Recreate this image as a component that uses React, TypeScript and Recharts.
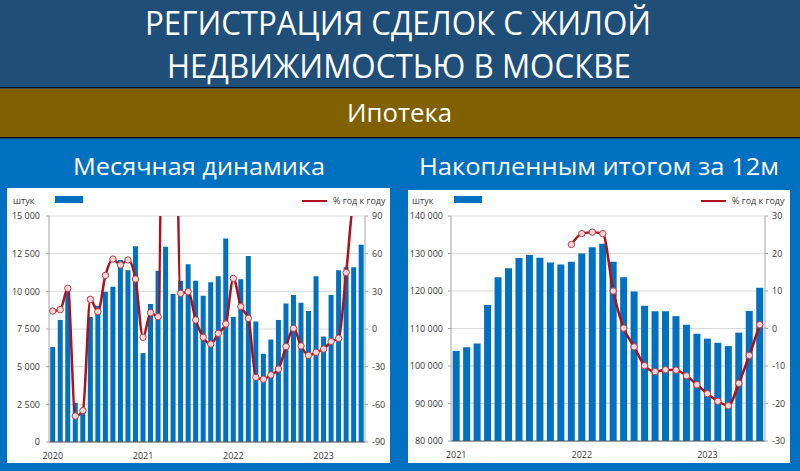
import React from 'react';
import { ComposedChart, Bar, Line, XAxis, YAxis, CartesianGrid } from 'recharts';

// ---- Monthly dynamics (left panel) ----
const monthsL = [
  '2020-01','2020-02','2020-03','2020-04','2020-05','2020-06','2020-07','2020-08','2020-09','2020-10','2020-11','2020-12',
  '2021-01','2021-02','2021-03','2021-04','2021-05','2021-06','2021-07','2021-08','2021-09','2021-10','2021-11','2021-12',
  '2022-01','2022-02','2022-03','2022-04','2022-05','2022-06','2022-07','2022-08','2022-09','2022-10','2022-11','2022-12',
  '2023-01','2023-02','2023-03','2023-04','2023-05','2023-06',
];
const dealsL = [
  6300, 8100, 10300, 2600, 2250, 8300, 9050, 9970, 10300, 12080, 11400, 13000,
  5900, 9160, 11370, 12960, 9820, 10700, 11800, 10700, 9700, 10600, 11000, 13500,
  8300, 10800, 12350, 8000, 5850, 6800, 8100, 9200, 9750, 9250, 8700, 11000,
  7000, 9750, 11400, 11600, 11600, 13100,
];
const yoyL = [
  14.3, 15.4, 32.4, -69.3, -65, 23.6, 13.8, 42.7, 55.7, 51, 55, 39.8,
  -6.6, 13, 9.8, 400, 336, 28.4, 29.7, 7.2, -6.6, -12, -3.5, 4,
  40.3, 17.8, 8.5, -38.5, -40, -36.6, -31.9, -14, 0.5, -13.5, -21, -18.6,
  -16, -10, -7.4, 45, 98, 93,
];
const ticksL = [0, 2500, 5000, 7500, 10000, 12500, 15000];
const ticksLR = [-90, -60, -30, 0, 30, 60, 90];

// ---- 12-month rolling total (right panel) ----
const monthsR = [
  '2021-01','2021-02','2021-03','2021-04','2021-05','2021-06','2021-07','2021-08','2021-09','2021-10','2021-11','2021-12',
  '2022-01','2022-02','2022-03','2022-04','2022-05','2022-06','2022-07','2022-08','2022-09','2022-10','2022-11','2022-12',
  '2023-01','2023-02','2023-03','2023-04','2023-05','2023-06',
];
const dealsR = [
  104000, 105000, 106000, 116300, 123700, 126100, 128800, 129600, 128900, 127600, 127100, 127800,
  130000, 131700, 132600, 127800, 123700, 119900, 116100, 114600, 114600, 113300, 111000, 108600,
  107300, 106200, 105300, 108900, 114700, 120900,
];
const yoyR: (number | null)[] = [
  null, null, null, null, null, null, null, null, null, null, null, 22.4,
  25.3, 25.7, 25.3, 10.0, 0.1, -4.9, -9.9, -11.5, -11.0, -11.1, -12.6, -15,
  -17.4, -19.4, -20.6, -14.6, -7.2, 1.0,
];
const ticksR = [80000, 90000, 100000, 110000, 120000, 130000, 140000];
const ticksRR = [-30, -20, -10, 0, 10, 20, 30];

const dataL = monthsL.map((m, i) => ({ m, v: dealsL[i], p: yoyL[i] }));
const dataR = monthsR.map((m, i) => ({ m, v: dealsR[i], p: yoyR[i] }));

const BLUE = '#0070C0';
const RED = '#B0101C';
const FONT = '"Open Sans", "Liberation Sans", sans-serif';
const tickStyle = { fontSize: 9, fill: '#3A3A3A', fontFamily: FONT };
const fmt = (v: number) => String(v).replace(/\B(?=(\d{3})+(?!\d))/g, '\u00A0');
const yearFmt = (v: string) => (v.endsWith('-01') ? v.slice(0, 4) : '');

function Panel(props: {
  left: number; top: number; width: number; height: number; data: any[];
  lTicks: number[]; rTicks: number[]; mTop: number; yW: number; xH: number; lMargin: number;
}) {
  const { left, top, width, height, data, lTicks, rTicks, mTop, yW, xH, lMargin } = props;
  return (
    <div style={{ position: 'absolute', left, top, width, height, background: '#fff' }}>
      <ComposedChart width={width} height={height} data={data}
        margin={{ top: mTop, right: 0, bottom: 0, left: 0 }} barCategoryGap="16%">
        <CartesianGrid vertical={false} stroke="#D9D9D9" yAxisId="l" />
        <XAxis dataKey="m" interval={0} tickFormatter={yearFmt} tickLine={false}
          height={xH} tickSize={8} tickMargin={3} tick={tickStyle}
          axisLine={{ stroke: '#595959' }} />
        <YAxis yAxisId="l" domain={[lTicks[0], lTicks[lTicks.length - 1]]} ticks={lTicks}
          width={yW} tickFormatter={fmt} tick={tickStyle} tickSize={3} tickMargin={lMargin}
          axisLine={{ stroke: '#A6A6A6' }} tickLine={{ stroke: '#A6A6A6' }} allowDataOverflow />
        <YAxis yAxisId="r" orientation="right" domain={[rTicks[0], rTicks[rTicks.length - 1]]}
          ticks={rTicks} width={25} tick={{ ...tickStyle, textAnchor: 'start' }} tickSize={3} tickMargin={4}
          axisLine={{ stroke: '#A6A6A6' }} tickLine={{ stroke: '#A6A6A6' }} allowDataOverflow />
        <Bar yAxisId="l" dataKey="v" fill={BLUE} isAnimationActive={false} />
        <Line yAxisId="r" dataKey="p" type="monotone" stroke={RED} strokeWidth={2.5}
          dot={{ r: 3.2, fill: '#F3D6D6', stroke: '#B8404A', strokeWidth: 1 }}
          activeDot={false} isAnimationActive={false} connectNulls={false} />
      </ComposedChart>
    </div>
  );
}

function LegendRow(props: { x0: number }) {
  const { x0 } = props;
  const t = { position: 'absolute' as const, fontFamily: FONT, fontSize: 9, color: '#3A3A3A', lineHeight: '12px', whiteSpace: 'nowrap' as const };
  return (
    <>
      <div style={{ ...t, left: x0 + 6, top: 195 }}>штук</div>
      <div style={{ position: 'absolute', left: x0 + 48, top: 196, width: 28, height: 7, background: BLUE }} />
      <div style={{ position: 'absolute', left: x0 + 295, top: 200, width: 25, height: 2, background: RED }} />
      <div style={{ ...t, left: x0 + 326, top: 195 }}>% год к году</div>
    </>
  );
}

export default function App() {
  return (
    <div style={{ position: 'absolute', left: 0, top: 0, width: 800, height: 471, background: BLUE, overflow: 'hidden' }}>
      <svg width={800} height={188} style={{ position: 'absolute', left: 0, top: 0 }}>
        <rect x={0} y={0} width={800} height={87} fill="#1F4E79" />
        <rect x={0} y={87} width={800} height={1.5} fill="#111" />
        <rect x={0} y={88.5} width={800} height={48.5} fill="#806000" />
        <rect x={0} y={137} width={800} height={1.5} fill="#111" />
        <g fill="#fff" fontFamily={FONT}>
          <text x={145} y={35} fontSize={33} textLength={506} lengthAdjust="spacingAndGlyphs">РЕГИСТРАЦИЯ СДЕЛОК С ЖИЛОЙ</text>
          <text x={167} y={78} fontSize={33} textLength={464} lengthAdjust="spacingAndGlyphs">НЕДВИЖИМОСТЬЮ В МОСКВЕ</text>
          <text x={347} y={122} fontSize={25} textLength={105} lengthAdjust="spacingAndGlyphs">Ипотека</text>
          <text x={73} y={175} fontSize={24} textLength={252} lengthAdjust="spacingAndGlyphs">Месячная динамика</text>
          <text x={419} y={175} fontSize={24} textLength={360} lengthAdjust="spacingAndGlyphs">Накопленным итогом за 12м</text>
        </g>
      </svg>
      <Panel left={7} top={188} width={383} height={275} data={dataL}
        lTicks={ticksL} rTicks={ticksLR} mTop={28} yW={42} xH={21} lMargin={6} />
      <Panel left={408} top={190} width={382} height={273} data={dataR}
        lTicks={ticksR} rTicks={ticksRR} mTop={26} yW={43} xH={22} lMargin={5} />
      <LegendRow x0={7} />
      <LegendRow x0={406} />
    </div>
  );
}
